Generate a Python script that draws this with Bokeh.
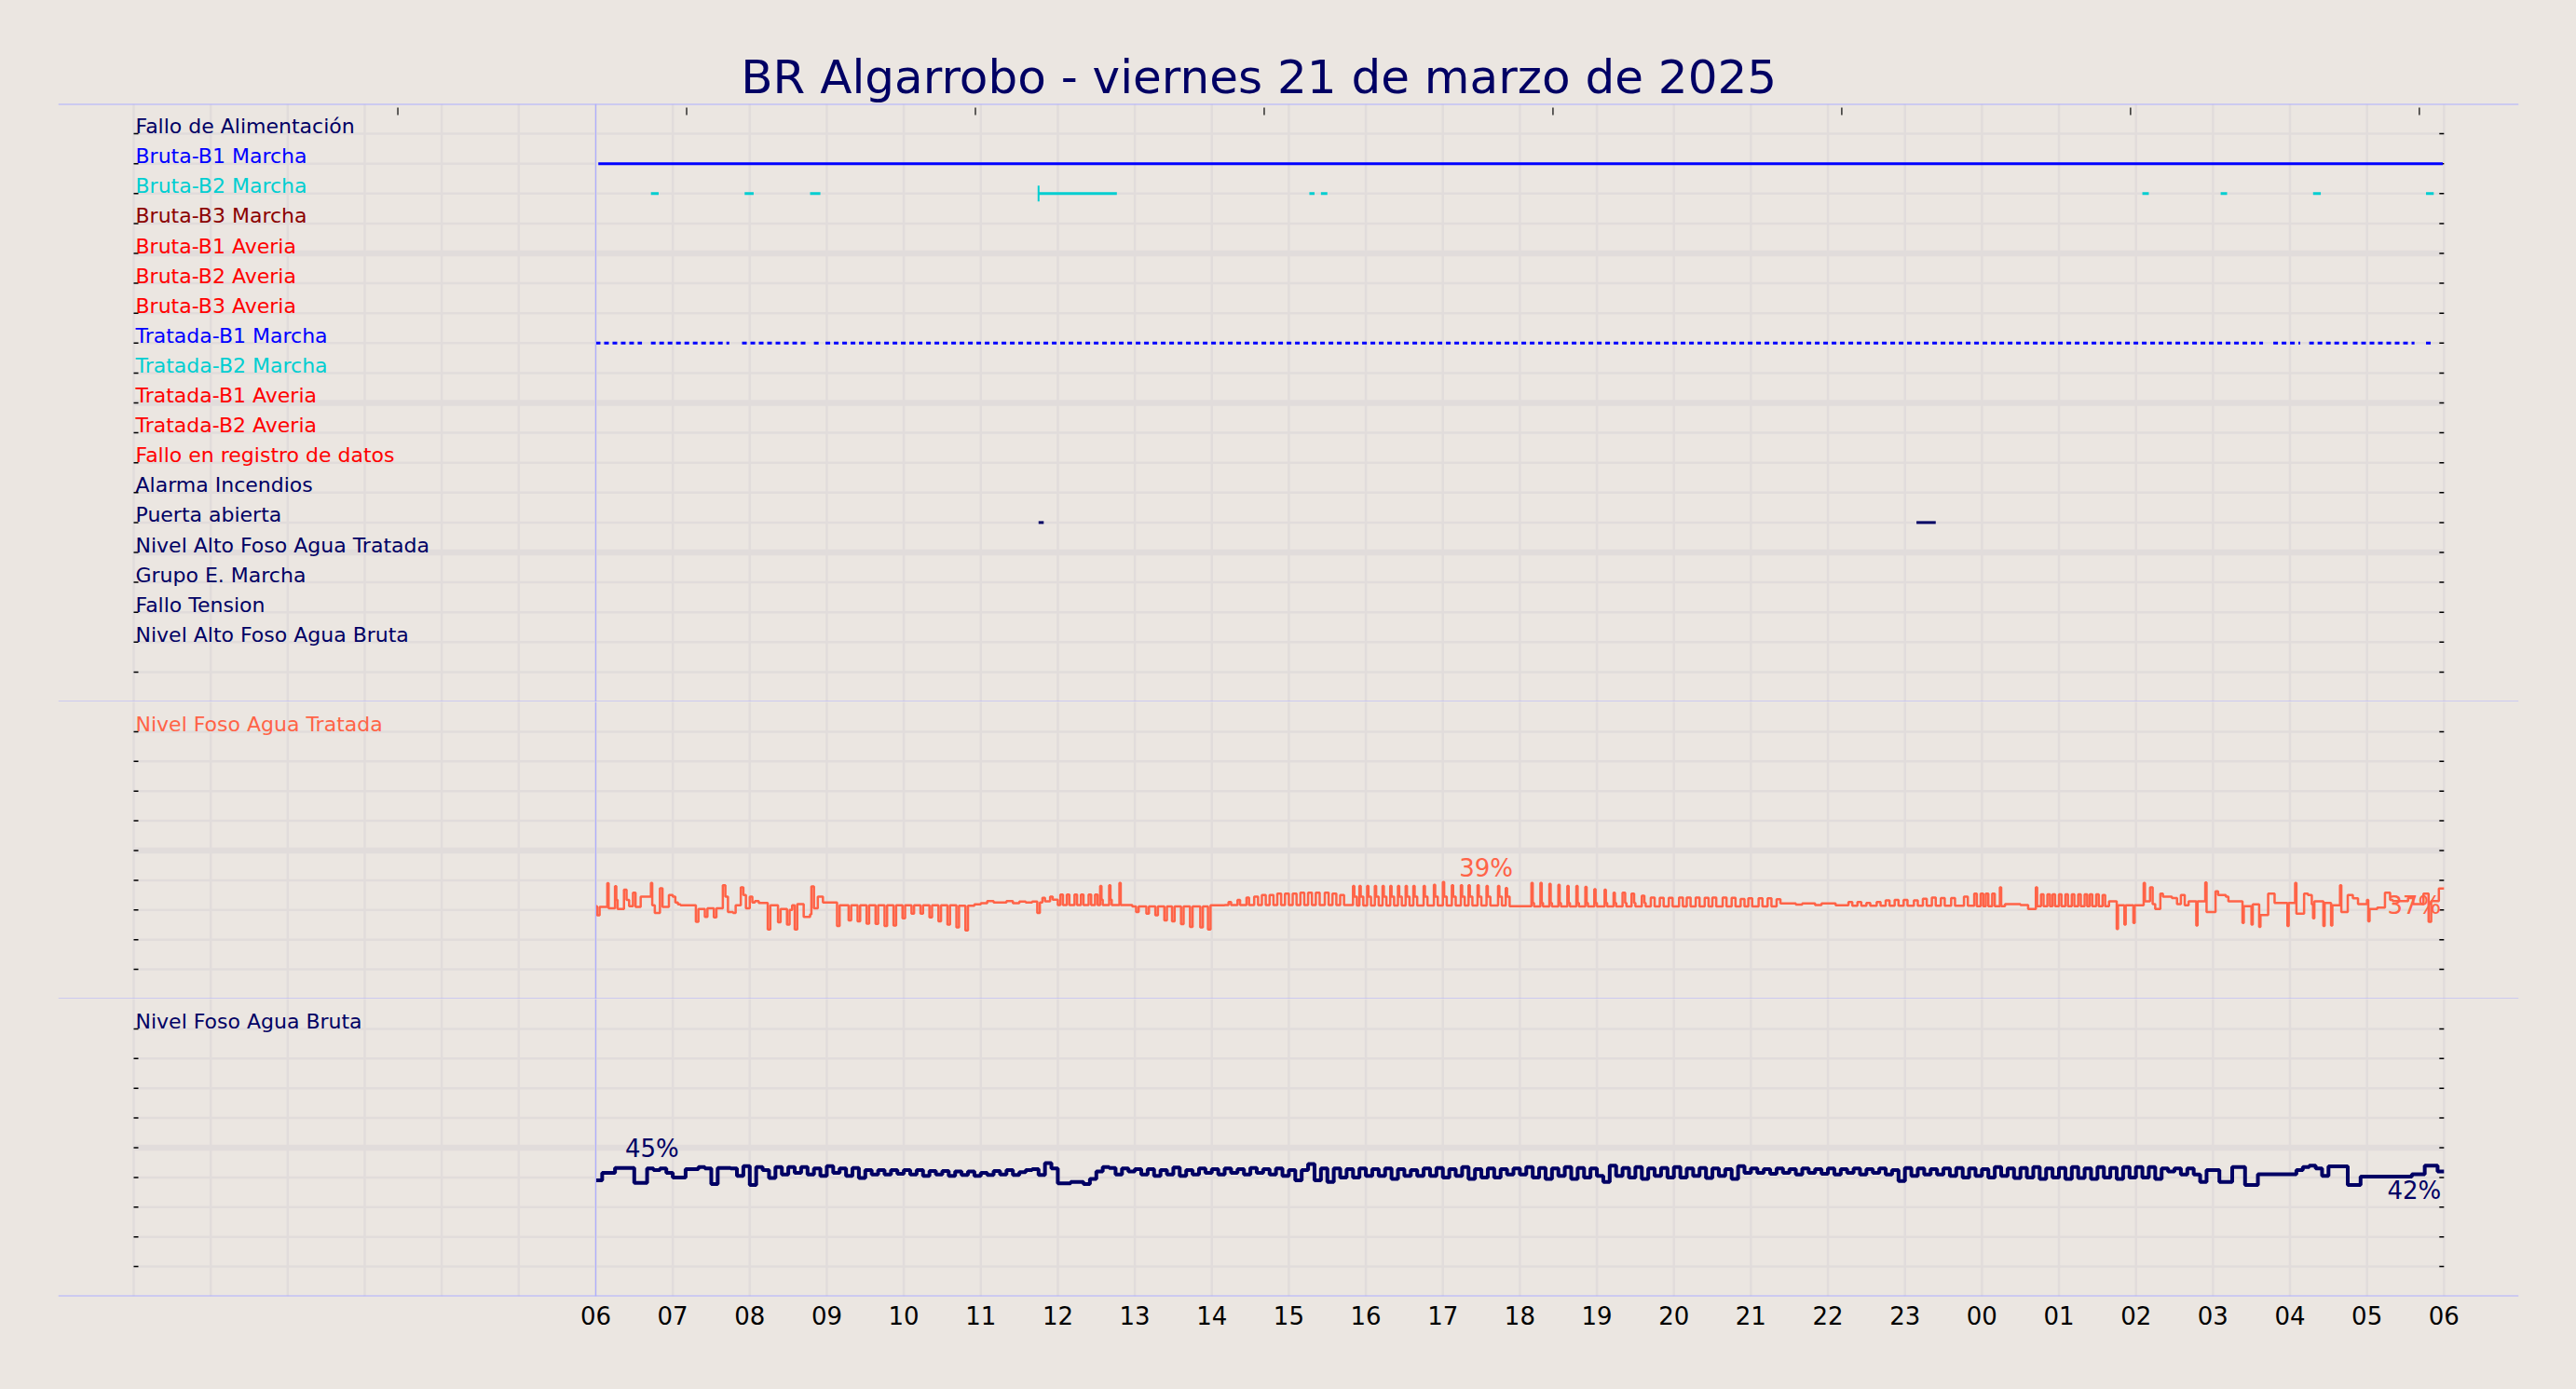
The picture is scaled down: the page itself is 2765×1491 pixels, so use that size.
import numpy as np
from bokeh.plotting import figure
from bokeh.layouts import column
from bokeh.models import Range1d, FixedTicker, LinearAxis, Span
from bokeh.core.properties import value
from bokeh.embed import file_html
from bokeh.resources import INLINE

# ---------------- data ----------------
TITLE = "BR Algarrobo   -   viernes 21 de marzo de 2025"

NAVY = "#000064"
BLUE = "#0000FF"
CYAN = "#00CED1"
DARKRED = "#8B0000"
RED = "#FF0000"
TOMATO = "#FF6347"

row_labels = ["Fallo de Alimentación", "Bruta-B1 Marcha", "Bruta-B2 Marcha", "Bruta-B3 Marcha",
              "Bruta-B1 Averia", "Bruta-B2 Averia", "Bruta-B3 Averia", "Tratada-B1 Marcha",
              "Tratada-B2 Marcha", "Tratada-B1 Averia", "Tratada-B2 Averia", "Fallo en registro de datos",
              "Alarma Incendios", "Puerta abierta", "Nivel Alto Foso Agua Tratada", "Grupo E. Marcha",
              "Fallo Tension", "Nivel Alto Foso Agua Bruta"]
row_colors = [NAVY, BLUE, CYAN, DARKRED, RED, RED, RED, BLUE, CYAN, RED, RED, RED,
              NAVY, NAVY, NAVY, NAVY, NAVY, NAVY]
row_levels = [19, 18, 17, 16, 15, 14, 13, 12, 11, 10, 9, 8, 7, 6, 5, 4, 3, 2]

# on-intervals, minutes after 06:00
bruta_b1_runs = [(2, 1439)]
bruta_b2_runs = [(43, 49), (116, 123), (167, 175), (345, 406), (556, 560), (565, 570),
                 (1205, 1210), (1266, 1271), (1338, 1344), (1426, 1432)]
bruta_b2_marks = [345]
tratada_b1_runs = [(0, 36), (43, 104), (114, 164), (170, 174), (179, 1299), (1307, 1328),
                   (1335, 1365), (1369, 1417), (1426, 1430)]
puerta_runs = [(345, 349), (1029, 1044)]

# Nivel Foso Agua Tratada (%), change points (minute after 06:00, value)
tratada_level = [
    (0, 31.3), (1, 28.2), (3, 31.0), (9, 39.0), (10, 30.6), (15, 38.0), (16, 33.4), (17, 30.3), (22, 36.8), (24, 33.4),
    (26, 31.3), (29, 35.8), (31, 31.0), (35, 34.5), (43, 39.1), (44, 31.6), (46, 29.0), (50, 37.3), (52, 31.0), (57, 35.0),
    (60, 34.5), (62, 32.5), (64, 31.9), (66, 31.6), (78, 26.0), (80, 30.3), (85, 27.7), (87, 30.6), (92, 27.5), (94, 30.6),
    (99, 38.3), (101, 34.5), (103, 29.3), (107, 29.0), (109, 31.6), (113, 37.6), (115, 35.0), (117, 30.6), (120, 34.5), (122, 32.5),
    (124, 33.0), (127, 32.4), (134, 23.4), (136, 31.6), (142, 25.9), (144, 30.3), (149, 25.1), (151, 30.0), (153, 31.6), (155, 23.4),
    (157, 32.0), (162, 27.7), (167, 28.5), (168, 37.9), (170, 30.6), (173, 34.5), (177, 32.5), (188, 24.6), (190, 31.6), (197, 26.5),
    (199, 31.6), (204, 26.2), (206, 31.6), (211, 25.4), (213, 31.6), (218, 25.3), (220, 31.6), (225, 24.6), (227, 31.6), (232, 24.8),
    (234, 31.6), (239, 27.2), (241, 31.6), (246, 28.8), (248, 31.6), (253, 28.8), (255, 31.6), (260, 27.5), (262, 31.6), (267, 26.2),
    (269, 31.6), (274, 25.1), (276, 31.6), (281, 24.1), (283, 31.4), (288, 23.1), (290, 31.4), (295, 31.9), (300, 32.3), (305, 33.0),
    (310, 32.5), (320, 33.0), (325, 32.3), (330, 32.8), (335, 32.5), (340, 32.8), (344, 29.0), (346, 32.5), (348, 34.1), (350, 32.9),
    (354, 34.5), (356, 33.5), (360, 31.7), (362, 35.2), (364, 31.7), (367, 35.2), (369, 31.7), (373, 35.2), (375, 31.7), (378, 35.2),
    (380, 31.7), (384, 35.2), (386, 31.7), (389, 35.2), (391, 31.7), (393, 38.1), (394, 33.5), (395, 31.7), (400, 38.3), (401, 33.5),
    (402, 31.7), (408, 39.1), (409, 31.7), (418, 31.2), (421, 29.3), (423, 31.2), (429, 28.8), (431, 31.2), (436, 28.2), (438, 31.2),
    (443, 26.5), (445, 31.2), (449, 26.2), (451, 31.2), (456, 25.2), (458, 31.2), (463, 24.3), (465, 31.2), (471, 24.1), (473, 31.2),
    (477, 23.4), (479, 31.6), (490, 31.7), (493, 32.7), (495, 31.7), (500, 33.4), (502, 31.7), (507, 34.2), (509, 31.7), (513, 34.5),
    (516, 31.7), (519, 35.0), (522, 31.7), (525, 35.0), (528, 31.7), (531, 35.5), (534, 31.7), (537, 35.5), (540, 31.7), (543, 35.5),
    (546, 31.7), (549, 35.8), (552, 31.7), (555, 35.8), (558, 31.7), (561, 35.8), (564, 31.7), (568, 35.8), (571, 31.7), (574, 35.5),
    (577, 31.7), (580, 35.0), (583, 31.7),
    (590, 38.1), (591, 34.5), (593, 31.5), (595, 38.1), (596, 34.5), (598, 31.5), (601, 38.1), (602, 34.5), (604, 31.5), (607, 38.1),
    (608, 34.5), (610, 31.5), (613, 38.1), (614, 34.5), (616, 31.5), (619, 38.1), (620, 34.5), (622, 31.5), (625, 38.1), (626, 34.5),
    (628, 31.5), (631, 38.1), (632, 34.5), (634, 31.5), (637, 38.1), (638, 34.5), (640, 31.5), (645, 38.1), (646, 34.5), (648, 31.5),
    (653, 38.5), (654, 34.5), (656, 31.5), (660, 39.4), (661, 34.5), (663, 31.5), (667, 38.3), (668, 34.5), (670, 31.5), (674, 38.3),
    (675, 34.5), (677, 31.5), (680, 38.3), (681, 34.5), (683, 31.5), (687, 38.3), (688, 34.5), (690, 31.5), (694, 38.1), (695, 34.5),
    (697, 31.5), (703, 38.1), (704, 34.5), (706, 31.5), (709, 37.4), (710, 34.5), (712, 31.3),
    (729, 39.1), (730, 32.4), (731, 31.2), (736, 39.1), (737, 32.4), (738, 31.2), (743, 38.8), (744, 32.4), (745, 31.2), (750, 38.5),
    (751, 32.4), (752, 31.2), (757, 38.1), (758, 32.4), (759, 31.2), (764, 38.1), (765, 32.4), (766, 31.2), (771, 37.8), (772, 32.4),
    (773, 31.2), (778, 37.0), (779, 32.4), (780, 31.2), (786, 36.8), (787, 32.4), (788, 31.2), (793, 35.8), (794, 32.4), (795, 31.2),
    (800, 35.8), (802, 32.4), (803, 31.2), (807, 35.5), (809, 32.4), (810, 31.2), (815, 34.8), (817, 32.4), (818, 31.2),
    (822, 34.2), (825, 31.2), (829, 34.1), (832, 31.2), (836, 34.1), (839, 31.2), (844, 34.2), (847, 31.2), (850, 34.2), (853, 31.2),
    (857, 34.2), (860, 31.2), (864, 34.1), (867, 31.2), (870, 34.2), (873, 31.2), (878, 34.2), (881, 31.2), (885, 34.1), (888, 31.2),
    (892, 33.7), (895, 31.2), (898, 33.9), (901, 31.2), (906, 33.9), (909, 31.2), (913, 33.9), (916, 31.2), (920, 33.6), (923, 32.2),
    (935, 31.8), (940, 32.2), (950, 31.7), (955, 32.2), (966, 31.6),
    (976, 32.7), (979, 31.4), (983, 32.7), (986, 31.4), (990, 32.4), (993, 31.4), (998, 32.7), (1001, 31.4), (1005, 33.2), (1008, 31.4),
    (1012, 33.4), (1015, 31.4), (1019, 33.4), (1022, 31.4), (1027, 33.2), (1030, 31.4), (1034, 33.8), (1037, 31.4), (1041, 34.2), (1044, 31.4),
    (1048, 34.0), (1051, 31.4), (1056, 34.0), (1059, 31.4), (1066, 34.5), (1069, 31.4), (1074, 35.5), (1076, 31.3),
    (1079, 35.5), (1081, 31.3), (1083, 35.5), (1085, 31.3), (1088, 35.5), (1090, 31.3), (1094, 37.6), (1095, 31.3), (1098, 32.0), (1110, 31.7),
    (1116, 30.3), (1122, 37.6), (1123, 31.3), (1126, 35.3), (1128, 31.3), (1131, 35.3), (1133, 31.3), (1135, 35.3), (1137, 31.3), (1140, 35.3),
    (1142, 31.3), (1145, 35.3), (1147, 31.3), (1150, 35.3), (1152, 31.3), (1155, 35.3), (1157, 31.3), (1160, 35.3), (1162, 31.3), (1164, 35.3),
    (1166, 31.3), (1169, 35.3), (1171, 31.3), (1174, 35.0), (1176, 31.3), (1179, 32.9), (1185, 23.6), (1186, 31.6), (1191, 25.1), (1192, 31.6),
    (1198, 25.6), (1199, 31.6), (1206, 39.1), (1207, 32.9), (1211, 37.6), (1213, 32.0), (1215, 30.3), (1219, 35.5), (1221, 34.5), (1228, 34.0),
    (1232, 32.0), (1235, 35.0), (1238, 31.6), (1241, 32.9), (1247, 24.8), (1248, 32.9), (1254, 39.3), (1255, 29.3), (1262, 36.3), (1264, 35.0),
    (1270, 34.5), (1272, 32.9), (1283, 25.6), (1284, 31.3), (1290, 25.1), (1291, 31.9), (1296, 24.3), (1297, 28.3), (1303, 35.5), (1308, 32.4),
    (1318, 24.6), (1319, 32.4), (1324, 39.1), (1325, 28.8), (1331, 35.5), (1334, 35.0), (1337, 31.9), (1338, 27.2), (1339, 32.9), (1346, 24.6),
    (1347, 32.4), (1352, 24.8), (1353, 31.6), (1359, 38.3), (1360, 29.3), (1365, 35.0), (1369, 33.9), (1373, 32.0), (1380, 33.4), (1381, 26.2),
    (1382, 30.3), (1388, 30.8), (1394, 35.8), (1398, 33.4), (1400, 33.0), (1412, 34.0), (1416, 32.0), (1420, 32.0), (1424, 35.5), (1428, 26.0),
    (1430, 33.0), (1436, 37.2), (1440, 37.2),
]

# Nivel Foso Agua Bruta (%), one reading every 5 minutes from 06:00
bruta_level_5min = [
    39.0, 41.5, 41.5, 43.2, 43.2, 43.2, 38.2, 38.2, 43.0, 42.5,
    43.0, 41.5, 40.0, 40.0, 42.8, 42.8, 43.5, 43.0, 37.8, 43.2,
    43.2, 43.0, 40.5, 43.8, 37.5, 43.5, 42.5, 39.8, 43.5, 41.0,
    43.5, 41.5, 43.5, 41.0, 43.0, 40.5, 43.8, 41.5, 43.0, 40.5,
    43.2, 39.8, 42.5, 41.0, 42.5, 41.0, 42.5, 41.2, 42.5, 41.0,
    42.5, 40.5, 42.2, 41.0, 42.2, 40.5, 42.0, 40.8, 42.0, 40.5,
    41.5, 40.8, 42.2, 41.0, 42.5, 40.8, 41.8, 42.5, 42.8, 40.8,
    44.8, 43.0, 38.0, 38.0, 38.5, 38.5, 37.8, 39.5, 42.0, 43.5,
    43.2, 41.0, 43.0, 42.0, 42.8, 41.0, 42.8, 40.5, 42.5, 41.0,
    43.3, 40.5, 42.5, 41.0, 43.0, 41.5, 42.8, 41.0, 43.0, 41.5,
    42.8, 41.0, 43.2, 41.5, 42.8, 41.0, 43.0, 40.5, 42.5, 39.0,
    42.5, 44.5, 39.0, 43.0, 38.5, 43.0, 40.0, 42.8, 40.0, 43.0,
    40.5, 42.8, 40.5, 43.0, 39.5, 42.8, 40.5, 42.5, 40.5, 43.0,
    40.5, 43.2, 40.0, 42.8, 40.5, 43.5, 39.5, 42.8, 40.0, 43.0,
    40.0, 42.8, 41.0, 43.0, 41.0, 43.5, 40.0, 43.2, 39.5, 43.0,
    40.5, 43.5, 39.5, 43.2, 40.0, 43.0, 40.5, 38.5, 44.0, 40.5,
    43.2, 40.0, 43.5, 39.5, 43.0, 40.5, 43.2, 40.0, 43.5, 40.0,
    43.0, 40.5, 43.2, 39.8, 43.0, 40.5, 42.8, 39.5, 43.8, 41.5,
    43.0, 41.5, 42.8, 41.2, 43.0, 41.5, 42.8, 41.0, 43.0, 41.5,
    42.8, 41.2, 43.0, 41.0, 42.8, 41.5, 43.0, 41.0, 42.8, 41.5,
    43.0, 41.0, 42.5, 38.8, 43.2, 40.5, 43.0, 41.0, 42.8, 41.0,
    43.0, 40.5, 43.2, 40.0, 43.0, 40.5, 42.8, 40.0, 43.5, 40.5,
    43.0, 39.8, 43.2, 40.0, 43.5, 39.5, 43.0, 40.0, 43.2, 39.5,
    43.5, 39.8, 43.0, 39.5, 43.5, 40.0, 43.2, 39.5, 43.5, 40.0,
    43.5, 40.0, 43.5, 39.5, 43.0, 42.0, 43.0, 41.0, 43.0, 41.0,
    38.5, 42.5, 42.5, 38.5, 38.5, 43.5, 43.5, 37.5, 37.5, 41.1,
    41.1, 41.1, 41.1, 41.1, 41.1, 42.5, 43.5, 44.0, 43.0, 40.5,
    43.7, 43.7, 43.7, 37.5, 37.5, 40.3, 40.3, 40.3, 40.3, 40.3,
    40.3, 40.3, 40.3, 41.1, 41.1, 44.0, 44.0, 42.0,
]

hour_ticks = list(range(6, 31))
hour_labels = ["06", "07", "08", "09", "10", "11", "12", "13", "14", "15", "16", "17", "18",
               "19", "20", "21", "22", "23", "00", "01", "02", "03", "04", "05", "06"]
top_ticks = [3.43, 7.18, 10.93, 14.68, 18.43, 22.18, 25.93, 29.68]

# ---------------- style ----------------
BG = "#EBE6E1"
GRID = "#E1DCDB"
SPINE = "#AEAEFF"
FONT = "DejaVu Sans"
W = 2760
FRAME_L = 62
FRAME_W = 2641
FRAME_R = W - FRAME_L - FRAME_W
X0, X1 = -0.98, 30.97
PX_PER_HOUR = FRAME_W / (X1 - X0)
TOP_H, MID_H, BOT_H = 753, 319, 416
TOP_B = 111
BOT_B = BOT_H - 319

xr = Range1d(X0, X1)


def to_hours(minutes):
    return [6 + m / 60.0 for m in minutes]


def make_fig(height, y_end, top, bottom, title=None):
    p = figure(width=W, height=height, x_range=xr, y_range=Range1d(0, y_end),
               output_backend="svg", toolbar_location=None,
               x_axis_location=None, y_axis_location=None,
               min_border_left=FRAME_L, min_border_right=FRAME_R,
               min_border_top=top, min_border_bottom=bottom,
               background_fill_color=BG, border_fill_color=BG,
               outline_line_color=None, title=title)
    p.xgrid.visible = False
    p.ygrid.visible = False
    return p


def draw_grid(p, y_end, minor, major):
    hrs = list(range(0, 31))
    p.segment(x0=hrs, x1=hrs, y0=[0] * len(hrs), y1=[y_end] * len(hrs),
              line_color=GRID, line_width=2.5)
    p.segment(x0=[0] * len(minor), x1=[30] * len(minor), y0=minor, y1=minor,
              line_color=GRID, line_width=2.5)
    p.segment(x0=[0] * len(major), x1=[30] * len(major), y0=major, y1=major,
              line_color=GRID, line_width=6.5)


def side_ticks(p, ticks):
    d = 5.0 / PX_PER_HOUR
    n = len(ticks)
    p.segment(x0=[0] * n, x1=[d] * n, y0=ticks, y1=ticks, line_color="black", line_width=1.5)
    p.segment(x0=[30 - d] * n, x1=[30] * n, y0=ticks, y1=ticks, line_color="black", line_width=1.5)


def spines(p, ys):
    for y in ys:
        p.add_layout(Span(location=y, dimension="width", line_color=SPINE, line_width=2))
    p.add_layout(Span(location=6, dimension="height", line_color=SPINE, line_width=1.2))


def runs(p, intervals, level, color, dash="solid"):
    x0 = to_hours([a for a, b in intervals])
    x1 = to_hours([b for a, b in intervals])
    n = len(intervals)
    p.segment(x0=x0, x1=x1, y0=[level] * n, y1=[level] * n,
              line_color=color, line_width=3, line_dash=dash)


def row_text(p, ys, texts, colors):
    p.text(x=[0] * len(texts), y=ys, text=texts, text_color=colors,
           text_font=value(FONT), text_font_size="22px", text_align="left",
           text_baseline="middle", x_offset=2, y_offset=-8)


# ---------------- top panel: digital signals ----------------
p1 = make_fig(TOP_H, 20, TOP_B, 0, title=TITLE)
p1.title.align = "center"
p1.title.text_font = FONT
p1.title.text_font_size = "50px"
p1.title.text_font_style = "normal"
p1.title.text_color = NAVY
p1.title.standoff = 0

draw_grid(p1, 20, [r for r in range(1, 20) if r % 5 != 0], [5, 10, 15])
side_ticks(p1, list(range(1, 20)))
unit = 20.0 / (TOP_H - TOP_B)
nt = len(top_ticks)
p1.segment(x0=top_ticks, x1=top_ticks, y0=[20 - 4 * unit] * nt, y1=[20 - 12 * unit] * nt,
           line_color="black", line_width=1.2)

row_text(p1, row_levels, row_labels, row_colors)

lvl = dict(zip(row_labels, row_levels))
runs(p1, bruta_b1_runs, lvl["Bruta-B1 Marcha"], BLUE)
runs(p1, bruta_b2_runs, lvl["Bruta-B2 Marcha"], CYAN)
p1.scatter(x=to_hours(bruta_b2_marks), y=[lvl["Bruta-B2 Marcha"]] * len(bruta_b2_marks),
           marker="dash", angle=np.pi / 2, size=17, line_color=CYAN, line_width=2)
runs(p1, tratada_b1_runs, lvl["Tratada-B1 Marcha"], BLUE, dash="5 4")
runs(p1, puerta_runs, lvl["Puerta abierta"], NAVY)
spines(p1, [20, 0])

# ---------------- middle panel: Nivel Foso Agua Tratada ----------------
p2 = make_fig(MID_H, 100, 0, 0)
draw_grid(p2, 100, [10, 20, 30, 40, 60, 70, 80, 90], [50])
side_ticks(p2, [10, 20, 30, 40, 50, 60, 70, 80, 90])
row_text(p2, [90], ["Nivel Foso Agua Tratada"], [TOMATO])
t_min = [m for m, v in tratada_level]
t_val = [v for m, v in tratada_level]
p2.step(x=to_hours(t_min), y=t_val, mode="after", line_color=TOMATO, line_width=2.5)
t_max = max(t_val)
t_last = t_val[-1]
p2.text(x=[17.56, 30], y=[44.0, 31.6],
        text=[f"{round(t_max)}%", f"{round(t_last)}%"],
        text_align=["center", "right"], text_baseline="middle",
        text_color=TOMATO, text_font=value(FONT), text_font_size="26px", x_offset=[0, -3])
spines(p2, [0])

# ---------------- bottom panel: Nivel Foso Agua Bruta ----------------
p3 = make_fig(BOT_H, 100, 0, BOT_B)
draw_grid(p3, 100, [10, 20, 30, 40, 60, 70, 80, 90], [50])
side_ticks(p3, [10, 20, 30, 40, 50, 60, 70, 80, 90])
row_text(p3, [90], ["Nivel Foso Agua Bruta"], [NAVY])
b_min = [5 * k for k in range(len(bruta_level_5min))] + [1440]
b_val = bruta_level_5min + [bruta_level_5min[-1]]
p3.step(x=to_hours(b_min), y=b_val, mode="after", line_color=NAVY, line_width=4)
b_max = max(b_val)
b_last = b_val[-1]
p3.text(x=[6.73, 30], y=[49.6, 35.5],
        text=[f"{round(b_max)}%", f"{round(b_last)}%"],
        text_align=["center", "right"], text_baseline="middle",
        text_color=NAVY, text_font=value(FONT), text_font_size="26px", x_offset=[0, -3])
xax = LinearAxis(ticker=FixedTicker(ticks=hour_ticks),
                 major_label_overrides={t: l for t, l in zip(hour_ticks, hour_labels)},
                 major_tick_in=0, major_tick_out=0, minor_tick_line_color=None,
                 axis_line_color=None, major_label_standoff=10,
                 major_label_text_font=FONT, major_label_text_font_size="26px",
                 major_label_text_color="black")
p3.add_layout(xax, "below")
spines(p3, [0])

layout = column(p1, p2, p3, spacing=0)
layout.styles = {"background-color": BG}

html = file_html(layout, INLINE, title="BR Algarrobo")
html = html.replace("<head>", "<head><style>html,body{background:#EBE6E1;}</style>", 1)
open("out.html", "w").write(html)
